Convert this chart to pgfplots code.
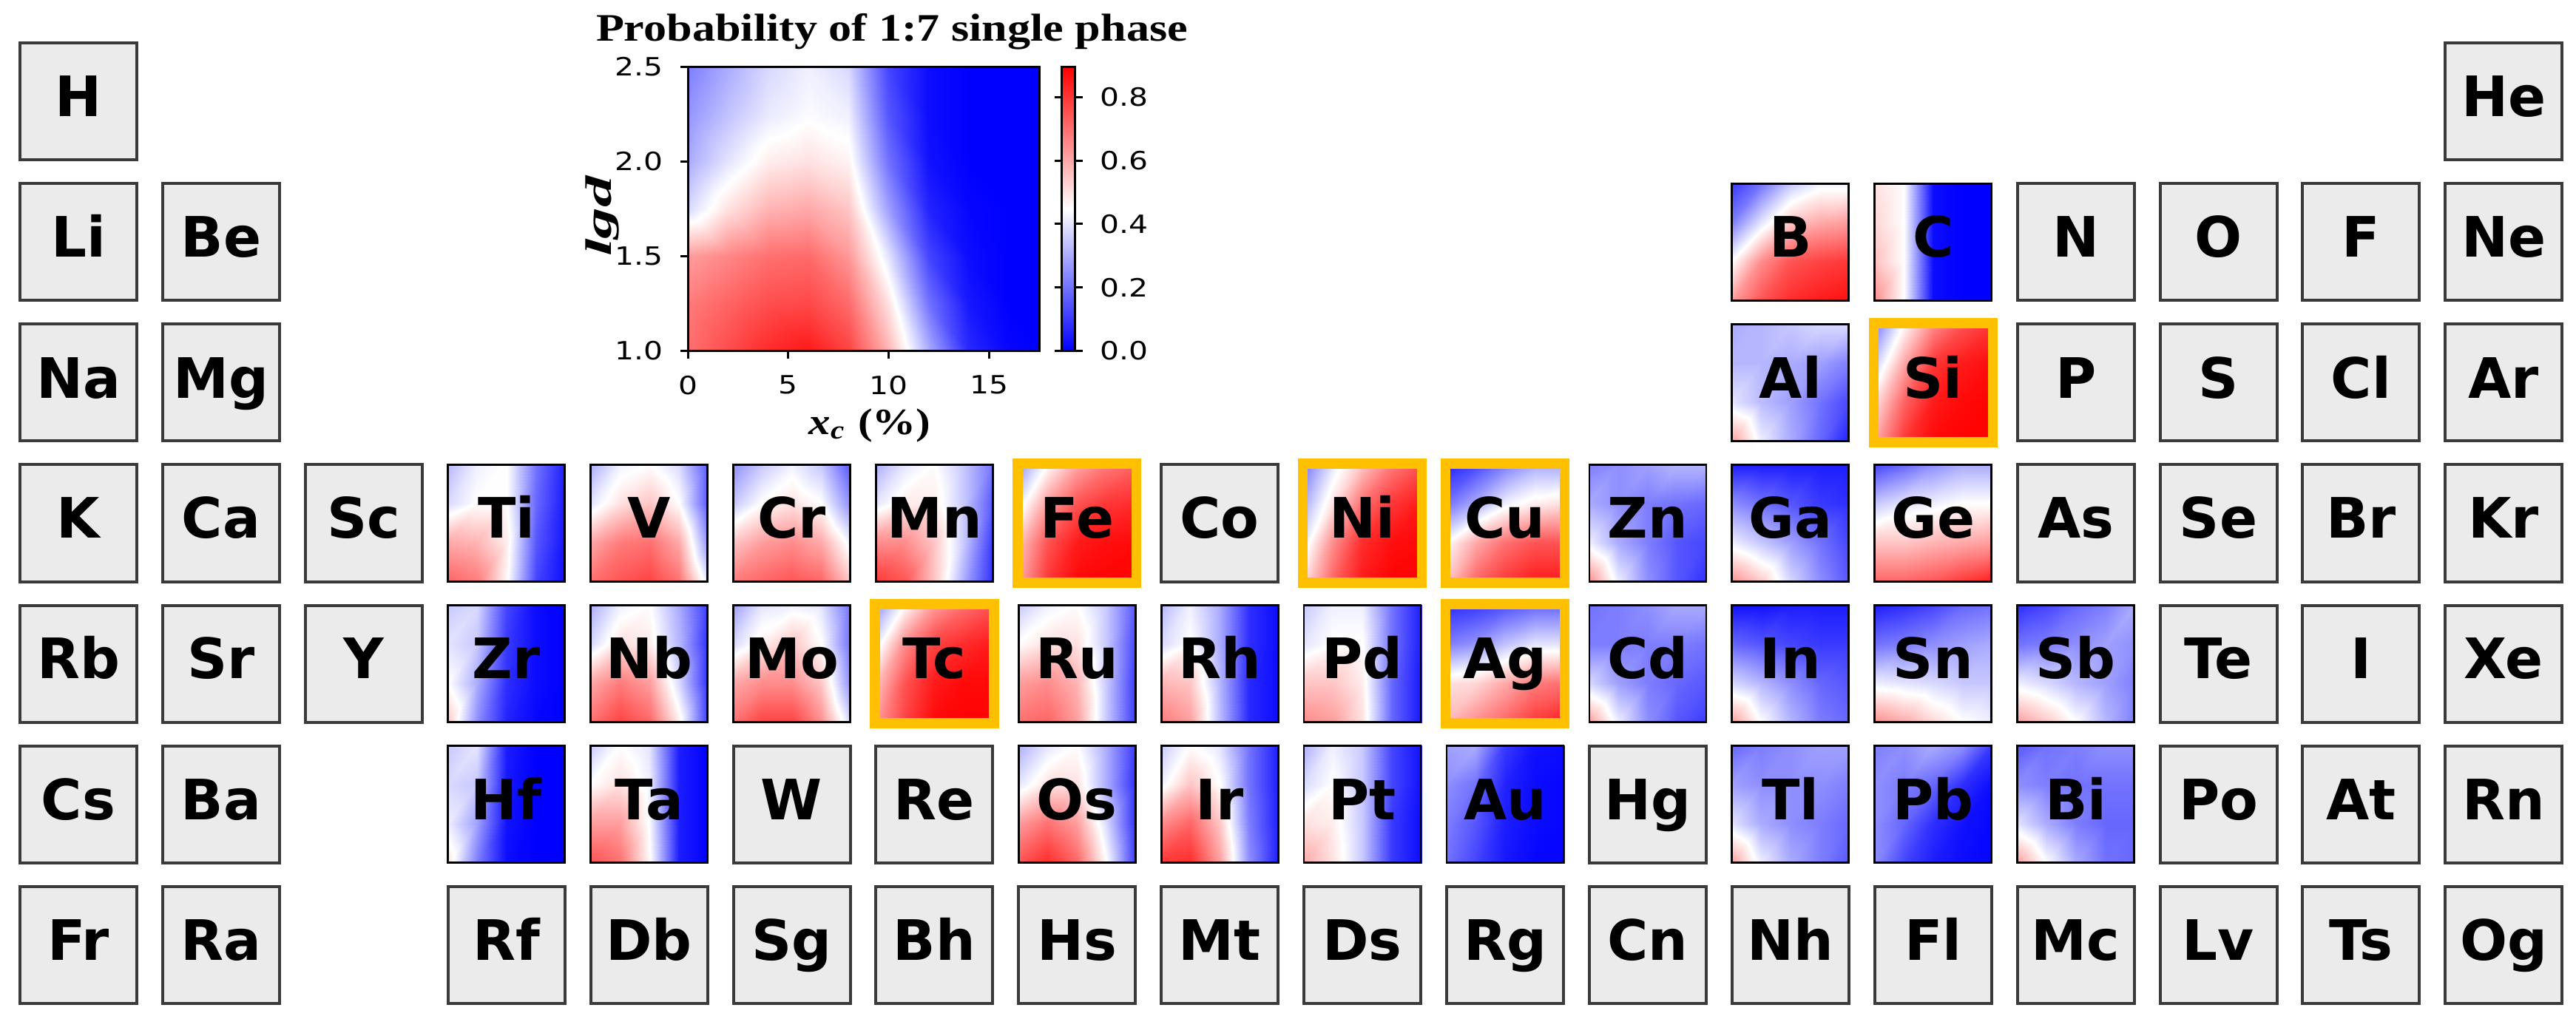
\documentclass[border=0pt]{standalone}
\usepackage{pgfplots}
\pgfplotsset{compat=1.18}
\usepackage{pgfplotstable}
\usepackage{fontspec}
\usepackage{graphicx}
\usetikzlibrary{calc}
\setmainfont{DejaVu Sans}
\newfontfamily\tnr{Liberation Serif}
\definecolor{tilegray}{RGB}{235,235,235}
\definecolor{tileedge}{RGB}{58,58,58}
\definecolor{orng}{RGB}{255,192,0}
\pgfplotsset{
  colormap={bwr}{rgb255=(0,0,255) rgb255=(255,255,255) rgb255=(255,0,0)},
  tilemap/.style={surf, shader=interp, mesh/cols=5},
}
\newcommand{\elfont}{\fontsize{11.3}{13}\selectfont\bfseries}
\pgfplotstableread{
c r l
0 0 H
17 0 He
0 1 Li
1 1 Be
12 1 B
13 1 C
14 1 N
15 1 O
16 1 F
17 1 Ne
0 2 Na
1 2 Mg
12 2 Al
13 2 Si
14 2 P
15 2 S
16 2 Cl
17 2 Ar
0 3 K
1 3 Ca
2 3 Sc
3 3 Ti
4 3 V
5 3 Cr
6 3 Mn
7 3 Fe
8 3 Co
9 3 Ni
10 3 Cu
11 3 Zn
12 3 Ga
13 3 Ge
14 3 As
15 3 Se
16 3 Br
17 3 Kr
0 4 Rb
1 4 Sr
2 4 Y
3 4 Zr
4 4 Nb
5 4 Mo
6 4 Tc
7 4 Ru
8 4 Rh
9 4 Pd
10 4 Ag
11 4 Cd
12 4 In
13 4 Sn
14 4 Sb
15 4 Te
16 4 I
17 4 Xe
0 5 Cs
1 5 Ba
3 5 Hf
4 5 Ta
5 5 W
6 5 Re
7 5 Os
8 5 Ir
9 5 Pt
10 5 Au
11 5 Hg
12 5 Tl
13 5 Pb
14 5 Bi
15 5 Po
16 5 At
17 5 Rn
0 6 Fr
1 6 Ra
3 6 Rf
4 6 Db
5 6 Sg
6 6 Bh
7 6 Hs
8 6 Mt
9 6 Ds
10 6 Rg
11 6 Cn
12 6 Nh
13 6 Fl
14 6 Mc
15 6 Lv
16 6 Ts
17 6 Og
}\elements
\pgfplotstableread{
c r
0 0
17 0
0 1
1 1
14 1
15 1
16 1
17 1
0 2
1 2
14 2
15 2
16 2
17 2
0 3
1 3
2 3
8 3
14 3
15 3
16 3
17 3
0 4
1 4
2 4
15 4
16 4
17 4
0 5
1 5
5 5
6 5
11 5
15 5
16 5
17 5
0 6
1 6
3 6
4 6
5 6
6 6
7 6
8 6
9 6
10 6
11 6
12 6
13 6
14 6
15 6
16 6
17 6
}\greys
% probability maps of the coloured tiles: 5 x 4 grid, u = column (left to right), w = row (top to bottom)
\pgfplotstableread{
u w B C Al Si Ti V Cr Mn Fe Ni Cu Zn Ga Ge Zr Nb Mo Tc Ru Rh Pd Ag Cd In Sn Sb Hf Ta Os Ir Pt Au Tl Pb Bi
0 0 .10 .50 .30 .20 .32 .30 .25 .30 .25 .20 .06 .22 .05 .12 .35 .30 .28 .25 .35 .32 .35 .08 .20 .03 .05 .08 .35 .35 .30 .35 .30 .28 .18 .22 .15
1 0 .20 .45 .32 .45 .42 .42 .35 .40 .45 .40 .12 .25 .05 .18 .38 .42 .40 .45 .42 .42 .42 .10 .22 .03 .08 .12 .40 .45 .40 .45 .42 .30 .22 .25 .20
2 0 .35 .02 .35 .65 .45 .45 .42 .45 .60 .55 .22 .28 .05 .25 .12 .45 .42 .62 .45 .30 .42 .14 .25 .05 .12 .18 .05 .40 .45 .40 .35 .10 .25 .30 .22
3 0 .42 0 .38 .75 .20 .38 .35 .35 .68 .68 .30 .32 .05 .30 .02 .30 .40 .70 .35 .08 .20 .18 .30 .05 .18 .22 0 .05 .30 .20 .12 .03 .28 .25 .25
4 0 .42 0 .38 .80 .05 .15 .15 .20 .72 .75 .30 .32 .05 .30 0 .10 .20 .75 .15 .02 .05 .18 .30 .05 .20 .30 0 0 .10 .05 .03 .02 .28 .10 .25
0 1 .22 .52 .32 .35 .38 .40 .35 .40 .40 .30 .20 .30 .25 .35 .40 .38 .38 .40 .45 .38 .40 .22 .22 .18 .20 .20 .38 .45 .40 .42 .38 .25 .28 .25 .25
1 1 .40 .45 .32 .60 .45 .50 .45 .48 .62 .50 .30 .25 .20 .40 .35 .50 .48 .65 .50 .45 .45 .26 .22 .15 .22 .22 .35 .50 .50 .55 .45 .20 .25 .22 .22
2 1 .55 .02 .30 .80 .45 .55 .50 .48 .75 .70 .42 .22 .15 .42 .10 .48 .55 .78 .50 .30 .45 .34 .22 .12 .25 .25 .04 .42 .50 .45 .35 .06 .25 .18 .20
3 1 .60 0 .28 .85 .18 .45 .45 .35 .80 .80 .48 .20 .10 .45 .02 .32 .45 .82 .35 .08 .20 .40 .22 .10 .28 .28 0 .05 .30 .20 .12 .02 .25 .08 .20
4 1 .62 0 .22 .87 .04 .15 .25 .15 .82 .85 .50 .18 .08 .45 0 .08 .20 .85 .12 .02 .05 .40 .20 .10 .30 .25 0 0 .08 .05 .03 .01 .22 .02 .20
0 2 .45 .56 .40 .50 .60 .60 .55 .65 .55 .40 .45 .42 .42 .55 .45 .60 .60 .55 .62 .58 .55 .50 .38 .38 .42 .42 .42 .62 .62 .65 .50 .22 .40 .25 .40
1 2 .65 .45 .33 .72 .58 .68 .62 .65 .75 .65 .60 .30 .35 .55 .30 .68 .65 .75 .65 .55 .55 .52 .28 .32 .40 .38 .28 .62 .70 .72 .48 .15 .30 .18 .30
2 2 .75 .02 .28 .85 .48 .70 .65 .55 .85 .82 .70 .22 .28 .58 .08 .62 .65 .85 .58 .32 .48 .60 .22 .25 .38 .32 .03 .44 .62 .55 .35 .05 .25 .08 .22
3 2 .78 0 .20 .88 .15 .60 .60 .35 .87 .87 .75 .15 .20 .60 .02 .38 .55 .88 .35 .07 .18 .68 .18 .18 .35 .28 0 .05 .38 .22 .10 .02 .22 .03 .18
4 2 .80 0 .12 .89 .03 .25 .42 .10 .88 .88 .75 .12 .12 .62 0 .08 .25 .88 .10 .02 .04 .70 .15 .15 .35 .22 0 0 .08 .05 .02 .01 .18 .01 .18
0 3 .62 .65 .62 .60 .72 .70 .68 .80 .60 .50 .55 .65 .65 .72 .55 .70 .70 .62 .70 .68 .65 .58 .62 .62 .65 .62 .50 .75 .75 .80 .60 .20 .62 .25 .62
1 3 .75 .45 .42 .80 .68 .75 .72 .75 .80 .72 .72 .42 .55 .72 .25 .78 .78 .78 .72 .62 .62 .65 .42 .45 .60 .55 .22 .70 .82 .82 .50 .12 .42 .12 .45
2 3 .82 .02 .30 .88 .46 .78 .75 .55 .88 .85 .80 .25 .38 .75 .06 .72 .78 .88 .62 .33 .50 .72 .25 .32 .52 .45 .02 .46 .72 .62 .35 .04 .30 .05 .30
3 3 .85 0 .18 .89 .12 .70 .72 .30 .89 .89 .85 .15 .25 .80 .01 .48 .65 .89 .35 .07 .18 .80 .15 .22 .45 .32 0 .05 .45 .25 .10 .01 .22 .02 .20
4 3 .87 0 .05 .89 .02 .40 .55 .08 .89 .89 .85 .08 .15 .85 0 .10 .38 .89 .10 .02 .04 .85 .10 .18 .42 .22 0 0 .10 .05 .02 .01 .15 .01 .18
}\grid
\begin{document}
\begin{tikzpicture}
\begin{axis}[name=main, scale only axis, width=522.45pt, height=206.55pt,
  xmin=0, xmax=3483, ymin=0, ymax=1377,
  axis line style={draw=none}, xtick=\empty, ytick=\empty,
  colormap name=bwr, point meta min=0, point meta max=0.895]
% grey tiles
\addplot[only marks, mark=square*, mark size=11.85pt,
  mark options={fill=tilegray, draw=tileedge, line width=0.6pt}]
  table[x expr={106+192.9*\thisrow{c}}, y expr={1239.5-190*\thisrow{r}}] {\greys};
% coloured tiles
\addplot[tilemap, point meta=\thisrow{B}] table[x expr={2340.8+40*\thisrow{u}}, y expr={1129.5-53.333*\thisrow{w}}] {\grid};
\addplot[tilemap, point meta=\thisrow{C}] table[x expr={2533.7+40*\thisrow{u}}, y expr={1129.5-53.333*\thisrow{w}}] {\grid};
\addplot[tilemap, point meta=\thisrow{Al}] table[x expr={2340.8+40*\thisrow{u}}, y expr={939.5-53.333*\thisrow{w}}] {\grid};
\addplot[tilemap, point meta=\thisrow{Si}] table[x expr={2533.7+40*\thisrow{u}}, y expr={939.5-53.333*\thisrow{w}}] {\grid};
\addplot[tilemap, point meta=\thisrow{Ti}] table[x expr={604.7+40*\thisrow{u}}, y expr={749.5-53.333*\thisrow{w}}] {\grid};
\addplot[tilemap, point meta=\thisrow{V}] table[x expr={797.6+40*\thisrow{u}}, y expr={749.5-53.333*\thisrow{w}}] {\grid};
\addplot[tilemap, point meta=\thisrow{Cr}] table[x expr={990.5+40*\thisrow{u}}, y expr={749.5-53.333*\thisrow{w}}] {\grid};
\addplot[tilemap, point meta=\thisrow{Mn}] table[x expr={1183.4+40*\thisrow{u}}, y expr={749.5-53.333*\thisrow{w}}] {\grid};
\addplot[tilemap, point meta=\thisrow{Fe}] table[x expr={1376.3+40*\thisrow{u}}, y expr={749.5-53.333*\thisrow{w}}] {\grid};
\addplot[tilemap, point meta=\thisrow{Ni}] table[x expr={1762.1+40*\thisrow{u}}, y expr={749.5-53.333*\thisrow{w}}] {\grid};
\addplot[tilemap, point meta=\thisrow{Cu}] table[x expr={1955+40*\thisrow{u}}, y expr={749.5-53.333*\thisrow{w}}] {\grid};
\addplot[tilemap, point meta=\thisrow{Zn}] table[x expr={2147.9+40*\thisrow{u}}, y expr={749.5-53.333*\thisrow{w}}] {\grid};
\addplot[tilemap, point meta=\thisrow{Ga}] table[x expr={2340.8+40*\thisrow{u}}, y expr={749.5-53.333*\thisrow{w}}] {\grid};
\addplot[tilemap, point meta=\thisrow{Ge}] table[x expr={2533.7+40*\thisrow{u}}, y expr={749.5-53.333*\thisrow{w}}] {\grid};
\addplot[tilemap, point meta=\thisrow{Zr}] table[x expr={604.7+40*\thisrow{u}}, y expr={559.5-53.333*\thisrow{w}}] {\grid};
\addplot[tilemap, point meta=\thisrow{Nb}] table[x expr={797.6+40*\thisrow{u}}, y expr={559.5-53.333*\thisrow{w}}] {\grid};
\addplot[tilemap, point meta=\thisrow{Mo}] table[x expr={990.5+40*\thisrow{u}}, y expr={559.5-53.333*\thisrow{w}}] {\grid};
\addplot[tilemap, point meta=\thisrow{Tc}] table[x expr={1183.4+40*\thisrow{u}}, y expr={559.5-53.333*\thisrow{w}}] {\grid};
\addplot[tilemap, point meta=\thisrow{Ru}] table[x expr={1376.3+40*\thisrow{u}}, y expr={559.5-53.333*\thisrow{w}}] {\grid};
\addplot[tilemap, point meta=\thisrow{Rh}] table[x expr={1569.2+40*\thisrow{u}}, y expr={559.5-53.333*\thisrow{w}}] {\grid};
\addplot[tilemap, point meta=\thisrow{Pd}] table[x expr={1762.1+40*\thisrow{u}}, y expr={559.5-53.333*\thisrow{w}}] {\grid};
\addplot[tilemap, point meta=\thisrow{Ag}] table[x expr={1955+40*\thisrow{u}}, y expr={559.5-53.333*\thisrow{w}}] {\grid};
\addplot[tilemap, point meta=\thisrow{Cd}] table[x expr={2147.9+40*\thisrow{u}}, y expr={559.5-53.333*\thisrow{w}}] {\grid};
\addplot[tilemap, point meta=\thisrow{In}] table[x expr={2340.8+40*\thisrow{u}}, y expr={559.5-53.333*\thisrow{w}}] {\grid};
\addplot[tilemap, point meta=\thisrow{Sn}] table[x expr={2533.7+40*\thisrow{u}}, y expr={559.5-53.333*\thisrow{w}}] {\grid};
\addplot[tilemap, point meta=\thisrow{Sb}] table[x expr={2726.6+40*\thisrow{u}}, y expr={559.5-53.333*\thisrow{w}}] {\grid};
\addplot[tilemap, point meta=\thisrow{Hf}] table[x expr={604.7+40*\thisrow{u}}, y expr={369.5-53.333*\thisrow{w}}] {\grid};
\addplot[tilemap, point meta=\thisrow{Ta}] table[x expr={797.6+40*\thisrow{u}}, y expr={369.5-53.333*\thisrow{w}}] {\grid};
\addplot[tilemap, point meta=\thisrow{Os}] table[x expr={1376.3+40*\thisrow{u}}, y expr={369.5-53.333*\thisrow{w}}] {\grid};
\addplot[tilemap, point meta=\thisrow{Ir}] table[x expr={1569.2+40*\thisrow{u}}, y expr={369.5-53.333*\thisrow{w}}] {\grid};
\addplot[tilemap, point meta=\thisrow{Pt}] table[x expr={1762.1+40*\thisrow{u}}, y expr={369.5-53.333*\thisrow{w}}] {\grid};
\addplot[tilemap, point meta=\thisrow{Au}] table[x expr={1955+40*\thisrow{u}}, y expr={369.5-53.333*\thisrow{w}}] {\grid};
\addplot[tilemap, point meta=\thisrow{Tl}] table[x expr={2340.8+40*\thisrow{u}}, y expr={369.5-53.333*\thisrow{w}}] {\grid};
\addplot[tilemap, point meta=\thisrow{Pb}] table[x expr={2533.7+40*\thisrow{u}}, y expr={369.5-53.333*\thisrow{w}}] {\grid};
\addplot[tilemap, point meta=\thisrow{Bi}] table[x expr={2726.6+40*\thisrow{u}}, y expr={369.5-53.333*\thisrow{w}}] {\grid};
% borders of coloured tiles
\addplot[only marks, mark=square, mark size=11.85pt,
  mark options={draw=black, line width=0.4pt}]
  table[x expr={106+192.9*\thisrow{c}}, y expr={1239.5-190*\thisrow{r}}] {
c r
12 1
13 1
12 2
3 3
4 3
5 3
6 3
11 3
12 3
13 3
3 4
4 4
5 4
7 4
8 4
9 4
11 4
12 4
13 4
14 4
3 5
4 5
7 5
8 5
9 5
10 5
12 5
13 5
14 5
};
% highlighted tiles
\addplot[only marks, mark=square, mark size=12.07pt,
  mark options={draw=orng, line width=2pt}]
  table[x expr={106+192.9*\thisrow{c}}, y expr={1239.5-190*\thisrow{r}}] {
c r
13 2
7 3
9 3
10 3
6 4
10 4
};
% labels
\addplot[draw=none, mark=none, nodes near coords, point meta=explicit symbolic,
  every node near coord/.append style={anchor=base, inner sep=0pt, font=\elfont, text=black}]
  table[x expr={106+192.9*\thisrow{c}}, y expr={1219-190*\thisrow{r}}, meta=l] {\elements};
\end{axis}
\begin{axis}[at={($(main.center)+(-86.1pt,60.9pt)$)}, anchor=center,
  scale only axis, width=71.25pt, height=57.6pt,
  xmin=0, xmax=17.5, ymin=1, ymax=2.5, enlargelimits=false,
  xtick={0,5,10,15}, ytick={1,1.5,2,2.5},
  tick pos=left, tick align=outside, major tick length=1.5pt,
  every tick/.style={black, line width=0.45pt},
  axis line style={line width=0.45pt},
  /pgf/number format/assume math mode=true,
  tick label style={font=\fontsize{5.1}{6}\selectfont},
  xticklabel={\scalebox{1.2}[1]{\pgfmathprintnumber{\tick}}},
  yticklabel={\scalebox{1.2}[1]{\pgfmathprintnumber[fixed,fixed zerofill,precision=1]{\tick}}},
  every axis title shift=0pt,
  title={\tnr\bfseries\fontsize{7.9}{9}\selectfont\scalebox{1.18}[1]{Probability of 1:7 single phase}},
  title style={at={(0.581,1)}, anchor=base, yshift=5.3pt, inner sep=0pt},
  xlabel={\tnr\bfseries\fontsize{7.5}{9}\selectfont\scalebox{1.18}[1]{\textit{x}\textsubscript{\textit{c}} (\%)}},
  xlabel style={at={(0.518,0)}, anchor=base, yshift=-16.9pt, inner sep=0pt},
  ylabel={\tnr\bfseries\itshape\fontsize{7.5}{9}\selectfont\scalebox{1.7}[1]{lgd}},
  ylabel style={at={(-0.244,0.474)}, anchor=center, inner sep=0pt},
  colormap name=bwr, point meta min=0, point meta max=0.895,
  colorbar,
  colorbar style={at={(parent axis.north east)}, anchor=north west, xshift=-3.9pt,
    scale only axis, width=2.7pt,
    ytick={0,0.2,0.4,0.6,0.8},
    tick align=outside, major tick length=1.5pt,
    every tick/.style={black, line width=0.45pt},
    axis line style={line width=0.45pt},
    /pgf/number format/assume math mode=true,
    tick label style={font=\fontsize{5.1}{6}\selectfont},
    yticklabel={\scalebox{1.2}[1]{\pgfmathprintnumber[fixed,fixed zerofill,precision=1]{\tick}}}},
  axis on top]
\addplot[surf, shader=interp, mesh/cols=10, point meta=\thisrow{v}] table {
x y v
0 1.0 .70
2 1.0 .76
4 1.0 .82
6 1.0 .85
8 1.0 .78
10 1.0 .58
12 1.0 .30
14 1.0 .07
16 1.0 .01
17.5 1.0 0
0 1.25 .68
2 1.25 .72
4 1.25 .76
6 1.25 .77
8 1.25 .71
10 1.25 .50
12 1.25 .20
14 1.25 .04
16 1.25 0
17.5 1.25 0
0 1.5 .62
2 1.5 .66
4 1.5 .70
6 1.5 .71
8 1.5 .63
10 1.5 .40
12 1.5 .12
14 1.5 .02
16 1.5 0
17.5 1.5 0
0 1.75 .38
2 1.75 .50
4 1.75 .58
6 1.75 .60
8 1.75 .55
10 1.75 .28
12 1.75 .06
14 1.75 .01
16 1.75 0
17.5 1.75 0
0 2.0 .30
2 2.0 .40
4 2.0 .48
6 2.0 .50
8 2.0 .47
10 2.0 .20
12 2.0 .03
14 2.0 0
16 2.0 0
17.5 2.0 0
0 2.25 .26
2 2.25 .34
4 2.25 .41
6 2.25 .44
8 2.25 .42
10 2.25 .15
12 2.25 .02
14 2.25 0
16 2.25 0
17.5 2.25 0
0 2.5 .22
2 2.5 .30
4 2.5 .38
6 2.5 .42
8 2.5 .38
10 2.5 .12
12 2.5 .02
14 2.5 0
16 2.5 0
17.5 2.5 0
};
\end{axis}
\end{tikzpicture}
\end{document}
